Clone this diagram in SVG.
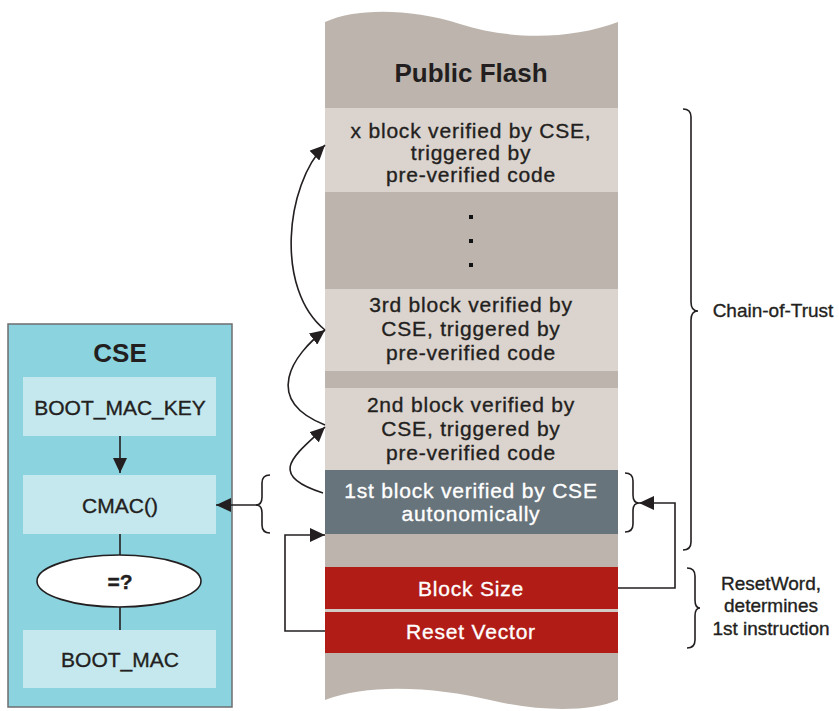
<svg xmlns="http://www.w3.org/2000/svg" width="839" height="711" viewBox="0 0 839 711">
<defs>
<style>
text{font-family:"Liberation Sans",Arial,sans-serif;fill:#231f20;stroke:#231f20;stroke-width:0.35;text-anchor:middle}
.blk{font-size:21px;letter-spacing:0.8px}
.wt{fill:#ffffff;stroke:#ffffff}
.ttl{font-size:26px;font-weight:bold;stroke-width:0}
.cse{font-size:21px}
.side{font-size:19px}
.ln{fill:none;stroke:#231f20;stroke-width:1.6}
.light{fill:#dbd3cd}
.red{fill:#b21c17}
.inner{fill:#c5e8ef}
</style>
<marker id="ah" markerUnits="userSpaceOnUse" markerWidth="15" markerHeight="14" refX="15" refY="7" orient="auto">
<path d="M0,0 L15,7 L0,14 Z" fill="#231f20"/>
</marker>
</defs>
<g id="flash">
<path d="M325,22 C355,8 410,8 460,24 C510,40 570,40 618,22 L618,700 C590,712 540,712 490,700 C440,688 370,682 325,700 Z" fill="#bdb5ad"/>
<text class="ttl" x="471" y="82">Public Flash</text>
</g>
<g id="block-x">
<rect class="light" x="325" y="108" width="293" height="84"/>
<text class="blk" x="471" y="138">x block verified by CSE,</text>
<text class="blk" x="471" y="160">triggered by</text>
<text class="blk" x="471" y="182">pre-verified code</text>
</g>
<g id="dots" fill="#111">
<rect x="469" y="215" width="4" height="4"/>
<rect x="469" y="239" width="4" height="4"/>
<rect x="469" y="263" width="4" height="4"/>
</g>
<g id="block-3">
<rect class="light" x="325" y="289" width="293" height="82"/>
<text class="blk" x="471" y="312">3rd block verified by</text>
<text class="blk" x="471" y="336">CSE, triggered by</text>
<text class="blk" x="471" y="360">pre-verified code</text>
</g>
<g id="block-2">
<rect class="light" x="325" y="388" width="293" height="82"/>
<text class="blk" x="471" y="412">2nd block verified by</text>
<text class="blk" x="471" y="436">CSE, triggered by</text>
<text class="blk" x="471" y="460">pre-verified code</text>
</g>
<g id="block-1">
<rect x="325" y="470" width="293" height="64" fill="#68747b"/>
<text class="blk wt" x="471" y="498">1st block verified by CSE</text>
<text class="blk wt" x="471" y="521">autonomically</text>
</g>
<g id="block-size">
<rect class="red" x="325" y="567" width="293" height="42"/>
<text class="blk wt" x="471" y="596">Block Size</text>
</g>
<rect x="325" y="609" width="293" height="3" fill="#d2cac4"/>
<g id="reset-vector">
<rect class="red" x="325" y="612" width="293" height="41"/>
<text class="blk wt" x="471" y="639">Reset Vector</text>
</g>
<g id="cse">
<rect x="8" y="324" width="224" height="383" fill="#8ad3df" stroke="#6d6e70" stroke-width="1.5"/>
<text class="ttl" x="120" y="362">CSE</text>
</g>
<g id="boot-mac-key">
<rect class="inner" x="23" y="377" width="193" height="59"/>
<text class="cse" x="120" y="415">BOOT_MAC_KEY</text>
</g>
<g id="cmac">
<rect class="inner" x="23" y="475" width="193" height="59"/>
<text class="cse" x="120" y="513">CMAC()</text>
</g>
<g id="compare">
<ellipse cx="119" cy="581" rx="82" ry="26" fill="#ffffff" stroke="#231f20" stroke-width="1.6"/>
<text class="cse" x="120" y="589" font-weight="bold" stroke-width="0">=?</text>
</g>
<g id="boot-mac">
<rect class="inner" x="23" y="630" width="193" height="58"/>
<text class="cse" x="120" y="667">BOOT_MAC</text>
</g>
<g id="labels">
<text class="side" x="773" y="317">Chain-of-Trust</text>
<text class="side" x="771" y="590">ResetWord,</text>
<text class="side" x="771" y="612">determines</text>
<text class="side" x="771" y="635">1st instruction</text>
</g>
<g id="connectors">
<path class="ln" d="M120,436 L120,473" marker-end="url(#ah)"/>
<path class="ln" d="M120,534 L120,555"/>
<path class="ln" d="M120,607 L120,630"/>
<path class="ln" d="M257,505 L216,505" marker-end="url(#ah)"/>
<path class="ln" d="M270,475 Q262,475 262,483 L262,497 Q262,505 256,505 Q262,505 262,513 L262,525 Q262,533 270,533"/>
<path class="ln" d="M325,631 L285,631 L285,535 L325,535" marker-end="url(#ah)"/>
<path class="ln" d="M323,493 C265,475 295,455 325,427" marker-end="url(#ah)"/>
<path class="ln" d="M325,425 C262,400 292,355 325,330" marker-end="url(#ah)"/>
<path class="ln" d="M325,330 C275,290 285,185 325,145" marker-end="url(#ah)"/>
<path class="ln" d="M618,588 L675,588 L675,503 L639,503" marker-end="url(#ah)"/>
<path class="ln" d="M625,473 Q633,473 633,481 L633,495 Q633,503 639,503 Q633,503 633,511 L633,524 Q633,532 625,532"/>
<path class="ln" d="M683,109 Q691,109 691,117 L691,302 Q691,311 698,311 Q691,311 691,320 L691,542 Q691,550 683,550"/>
<path class="ln" d="M687,568 Q695,568 695,576 L695,600 Q695,608 700,608 Q695,608 695,616 L695,640 Q695,648 687,648"/>
</g>
</svg>
